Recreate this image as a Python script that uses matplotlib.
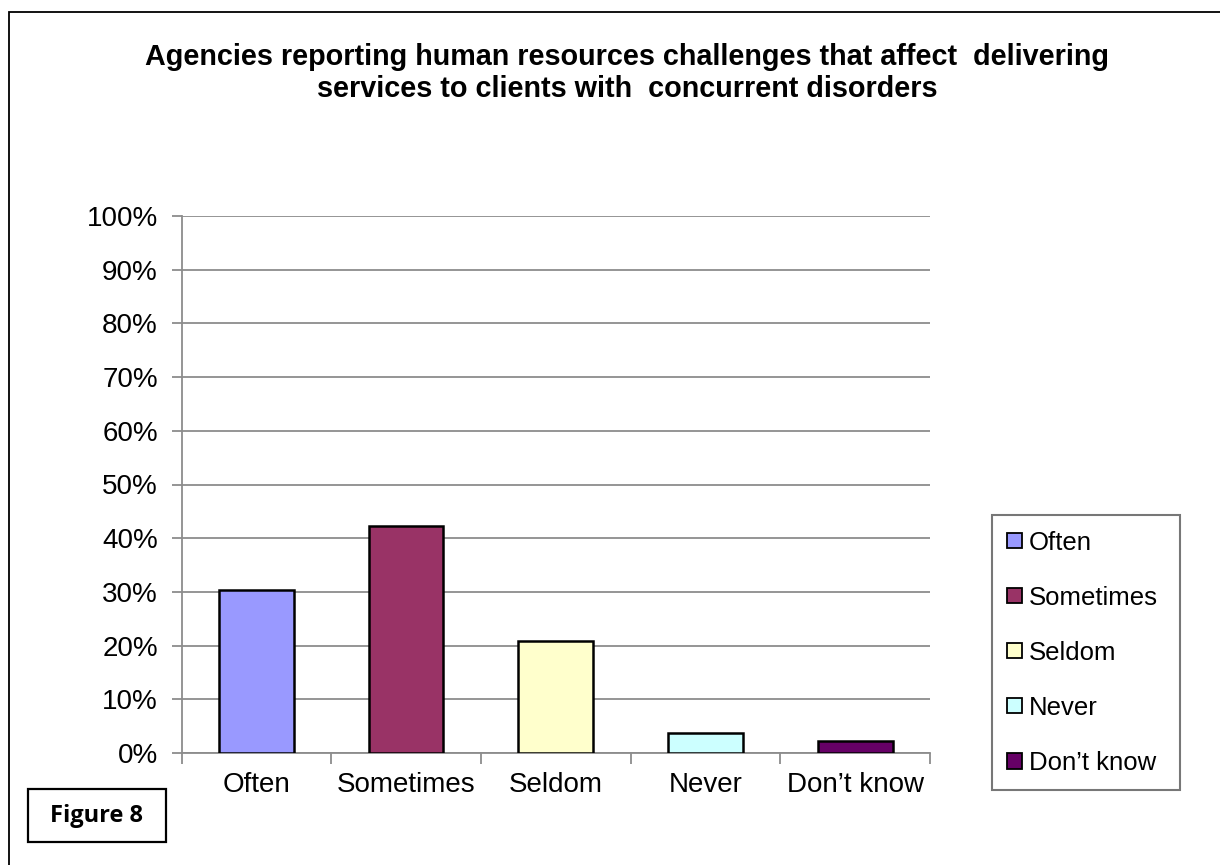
import matplotlib
matplotlib.use("Agg")
import matplotlib.pyplot as plt
from matplotlib.patches import Rectangle, Patch
from matplotlib.ticker import FuncFormatter, FixedLocator

categories = ["Often", "Sometimes", "Seldom", "Never", "Don\u2019t know"]
values = [30.3, 42.3, 20.8, 3.8, 2.3]
colors = ["#9999FF", "#993366", "#FFFFCC", "#CCFFFF", "#660066"]
y_ticks = [0, 10, 20, 30, 40, 50, 60, 70, 80, 90, 100]
title = ("Agencies reporting human resources challenges that affect  delivering\n"
         "services to clients with  concurrent disorders")

plt.rcParams["font.family"] = ["Liberation Sans", "DejaVu Sans"]

W, H = 1220, 865
fig = plt.figure(figsize=(W / 100, H / 100), dpi=100)
ax = fig.add_axes([181.5 / W, 1 - 753 / H, (930 - 181.5) / W, (753 - 216) / H])

x = list(range(len(categories)))
ax.bar(x, values, width=0.5, color=colors, edgecolor="black", linewidth=1.8, zorder=3)

ax.set_xlim(-0.5, len(categories) - 0.5)
ax.set_ylim(0, 100)
ax.set_yticks(y_ticks)
ax.yaxis.set_major_formatter(FuncFormatter(lambda v, p: f"{int(v)}%"))
ax.grid(axis="y", color="#8c8c8c", linewidth=1.3, zorder=0)

ax.xaxis.set_major_locator(FixedLocator([i - 0.5 for i in range(len(categories) + 1)]))
ax.xaxis.set_minor_locator(FixedLocator(x))
ax.set_xticklabels([""] * (len(categories) + 1))
ax.set_xticklabels(categories, minor=True)
ax.tick_params(axis="x", which="major", length=8, width=1.3, color="#8c8c8c")
ax.tick_params(axis="x", which="minor", length=0, labelsize=20, pad=14)
ax.tick_params(axis="y", length=7, width=1.3, color="#8c8c8c", labelsize=20, pad=10)

for s in ["top", "right"]:
    ax.spines[s].set_visible(False)
for s in ["left", "bottom"]:
    ax.spines[s].set_color("#8c8c8c")
    ax.spines[s].set_linewidth(1.3)

fig.text(627 / W, 1 - 43 / H, title, ha="center", va="top", fontsize=20.7,
         fontweight="bold", linespacing=1.2)

handles = [Patch(facecolor=c, edgecolor="black", linewidth=1.3) for c in colors]
leg = fig.legend(handles, categories, loc="upper left", mode="expand",
                 bbox_to_anchor=(992 / W, 1 - 516 / H, 188 / W, 0.001), fontsize=18.5,
                 frameon=True, fancybox=False, shadow=False,
                 handlelength=0.55, handleheight=0.55, handletextpad=0.28,
                 labelspacing=1.21, borderpad=0.6, borderaxespad=0)
leg.get_frame().set_edgecolor("#555555")
leg.get_frame().set_linewidth(1.5)

# outer chart frame
fig.patches.append(Rectangle((9 / W, -0.1), 1.2, 1 - 12 / H + 0.1, transform=fig.transFigure,
                             fill=False, edgecolor="black", linewidth=1.3))
# Figure label box
fig.patches.append(Rectangle((28 / W, 1 - 842 / H), 138 / W, 53 / H, transform=fig.transFigure,
                             fill=True, facecolor="white", edgecolor="black", linewidth=1.6))
fig.text(97 / W, 1 - 816 / H, "Figure 8", ha="center", va="center", fontsize=17,
         fontweight="bold", family=["Open Sans", "DejaVu Sans"])

fig.savefig("out.png", dpi=100)
